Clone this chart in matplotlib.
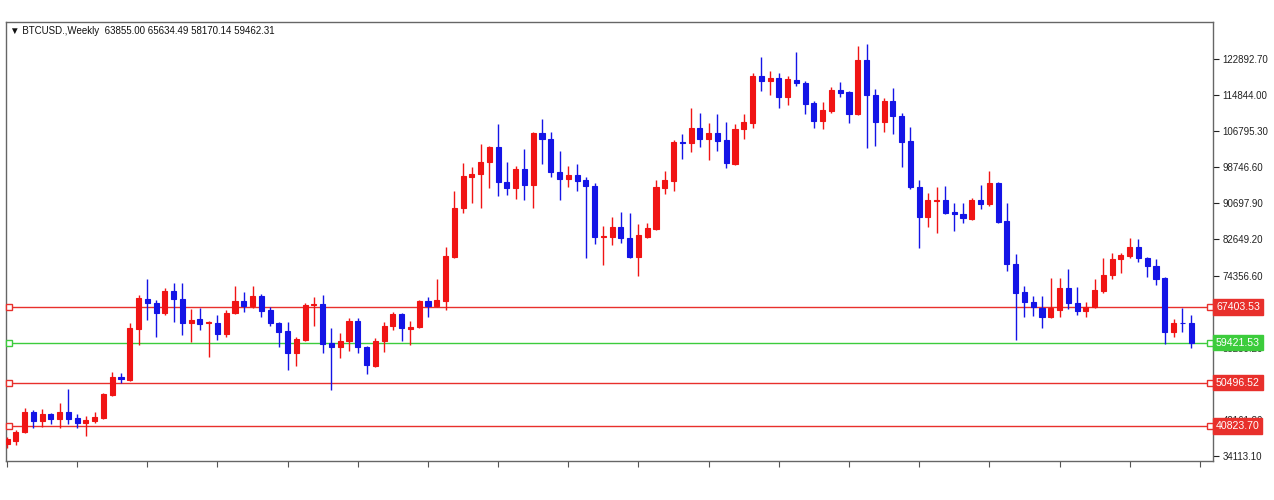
import matplotlib
matplotlib.use("Agg")
import matplotlib.pyplot as plt
import matplotlib.transforms as mtransforms
import numpy as np

plt.rcParams['font.family'] = ['Liberation Sans', 'DejaVu Sans']

# === weekly BTCUSD candles ===
opens = [
    36795, 37467, 39479, 43951, 41939, 43503, 42387, 43951, 42611, 41491,
    41939, 42611, 47753, 51779, 51107, 62511, 69219, 68323, 66087, 71007,
    69219, 63851, 64747, 63851, 63851, 61391, 66087, 68771, 67651, 69891,
    66759, 63851, 62063, 57143, 60051, 67879, 68101, 59379, 58483, 59827,
    64299, 58483, 54243, 59827, 63179, 65863, 62511, 62959, 68771, 67651,
    68771, 78611, 89567, 96499, 97171, 99851, 103207, 95379, 94039, 98287,
    94711, 106335, 104995, 97615, 96051, 96947, 95827, 94487, 83081, 83081,
    85319, 82857, 78611, 83081, 84871, 94039, 95603, 104323, 104099, 107455,
    104995, 106335, 104771, 99403, 107231, 108579, 119083, 117963, 118635, 114387,
    118187, 117515, 113047, 109019, 111255, 115951, 115503, 110583, 122659, 114833,
    108803, 113491, 110135, 104547, 94263, 87555, 91131, 91355, 88671, 88223,
    87107, 91355, 90459, 95155, 86659, 77043, 70783, 68547, 67207, 65191,
    66759, 71679, 68323, 66535, 67431, 71007, 74583, 78163, 78835, 80847,
    78387, 76595, 73915, 61839, 63950, 63855.00]

highs = [
    38363, 39927, 44847, 44399, 44623, 43727, 45963, 49095, 43503, 43059,
    43951, 48201, 52895, 52671, 63851, 70115, 73691, 68995, 71679, 72795,
    72795, 66983, 67207, 64299, 65639, 66759, 72127, 70783, 72127, 70339,
    67431, 64075, 64075, 60723, 68323, 69667, 70115, 62735, 61615, 64971,
    64971, 58707, 60499, 64075, 66311, 66087, 64299, 68995, 69667, 73691,
    80847, 93367, 99627, 98735, 103877, 103500, 108355, 99851, 98959, 102759,
    106600, 109467, 106559, 102311, 98959, 99403, 96499, 95155, 85543, 87555,
    88671, 88447, 85991, 86215, 95827, 97839, 104771, 106111, 111927, 110809,
    108579, 110583, 108803, 108355, 110583, 119755, 123331, 120199, 119755, 119083,
    124447, 117963, 113491, 113267, 116619, 117739, 115727, 125791, 126239, 116175,
    114163, 116399, 110809, 107679, 95827, 92919, 94263, 94487, 90683, 90683,
    91803, 94711, 97839, 95379, 90683, 79283, 72127, 69891, 69891, 73915,
    73915, 75927, 71903, 68547, 73691, 78387, 79507, 79507, 82859, 82635,
    78600, 78163, 74139, 64747, 67207, 65634.49]

lows = [
    35903, 36571, 39255, 40375, 40599, 41268, 40375, 41268, 40375, 38587,
    41491, 42387, 47500, 50435, 50883, 58931, 64523, 60723, 65639, 64075,
    61167, 59603, 62287, 56255, 60051, 60723, 65863, 66311, 67207, 65191,
    63179, 58483, 53343, 54243, 59827, 63179, 57143, 48871, 56031, 57591,
    57143, 52447, 54019, 57367, 62287, 59827, 58931, 62735, 65191, 67431,
    66759, 78400, 88447, 90683, 89567, 94039, 92247, 92471, 91579, 91355,
    89567, 99403, 96499, 91355, 94263, 93367, 78387, 81515, 76823, 81291,
    81739, 78400, 74359, 82857, 84647, 92695, 93367, 100523, 102087, 103207,
    100299, 102311, 98511, 99179, 104995, 107455, 115727, 114833, 111927, 112599,
    116843, 110583, 107455, 107231, 110807, 114387, 108579, 110300, 102983, 103431,
    106559, 106111, 98735, 93815, 80623, 85319, 83977, 88200, 84423, 86211,
    86883, 89343, 90011, 86211, 75479, 60051, 65191, 65415, 62735, 64967,
    65191, 66983, 65639, 65191, 67207, 70559, 73691, 75031, 78387, 77491,
    74135, 72351, 59155, 60723, 61839, 58170.14]

closes = [
    37915, 39479, 43951, 41939, 43503, 42387, 43951, 42387, 41491, 42163,
    42835, 47977, 51779, 51331, 62735, 69443, 68323, 66087, 71007, 69219,
    63851, 64523, 63627, 64075, 61391, 66087, 68771, 67651, 69891, 66535,
    63851, 61839, 57143, 60275, 67879, 68101, 59155, 58483, 59827, 64299,
    58483, 54467, 59827, 63179, 65863, 62735, 62959, 68771, 67651, 68995,
    78835, 89567, 96723, 97171, 99851, 103207, 95379, 94039, 98287, 94711,
    106335, 104995, 97615, 96051, 96947, 95603, 94487, 83081, 83305, 85319,
    82857, 78611, 83529, 85095, 94263, 95827, 104323, 104099, 107455, 104995,
    106335, 104547, 99627, 107231, 108803, 119083, 117963, 118635, 114387, 118411,
    117515, 112823, 109019, 111479, 115951, 115279, 110583, 122659, 114833, 108803,
    113491, 110135, 104323, 94263, 87555, 91355, 91355, 88447, 88223, 87331,
    91355, 90459, 95155, 86435, 77043, 70559, 68547, 67431, 65191, 67207,
    71679, 68323, 66535, 67431, 71231, 74583, 78163, 79059, 80847, 78387,
    76595, 73691, 61839, 63851, 63851, 59462.31]

# right price scale
tick_values = [34113.10, 42161.80, 50210.50, 58259.20, 66307.90, 74356.60,
               82649.20, 90697.90, 98746.60, 106795.30, 114844.00, 122892.70]

# horizontal levels
level_values = [67403.53, 59421.53, 50496.52, 40823.70]
level_colors = ['#e8302c', '#3ccc3c', '#e8302c', '#e8302c']

header = "\u25bc BTCUSD.,Weekly  63855.00 65634.49 58170.14 59462.31"

UP = '#f01414'
DOWN = '#1414e6'

fig = plt.figure(figsize=(12.74, 5), dpi=100)
ax = fig.add_axes([6 / 1274, 1 - 461 / 500, 1207 / 1274, 439 / 500])

o = np.array(opens)
h = np.array(highs)
l = np.array(lows)
c = np.array(closes)
x = np.arange(len(o))
cols = [UP if cc > oo else DOWN for oo, cc in zip(o, c)]

ax.vlines(x, l, h, colors=cols, linewidth=1.0, zorder=3)
ax.bar(x, np.abs(c - o), bottom=np.minimum(o, c), width=0.58,
       color=cols, edgecolor=cols, linewidth=0.8, zorder=4)

trans = mtransforms.blended_transform_factory(ax.transAxes, ax.transData)
for v, col in zip(level_values, level_colors):
    ax.axhline(v, color=col, linewidth=1.0, zorder=2)
    ax.plot([0.0025, 0.9975], [v, v], transform=trans, ls='none', marker='s',
            ms=4, mfc='white', mec=col, mew=1.0, clip_on=False, zorder=5)
    # price box sits over the scale label, as on the terminal
    ax.text(1.0025, v, f"{v:.2f}", transform=trans, ha='left', va='center',
            fontsize=7.6, color='white', clip_on=False, zorder=10,
            bbox=dict(boxstyle='square,pad=0.25', fc=col, ec=col))

ax.set_xlim(-0.11, 137.5)
ax.set_ylim(32995, 131155)

ax.yaxis.tick_right()
ax.set_yticks(tick_values)
ax.set_yticklabels([f"{t:.2f}" for t in tick_values])
ax.tick_params(axis='y', direction='out', length=4, width=0.8, pad=3,
               labelsize=7, colors='#222222')
ax.set_xticks(np.arange(0, len(o) + 1, 8))
ax.set_xticklabels([])
ax.tick_params(axis='x', direction='out', length=4, width=0.8, colors='#555555')

for s in ax.spines.values():
    s.set_color('#666666')
    s.set_linewidth(1.0)

ax.text(0.003, 0.979, header, transform=ax.transAxes, ha='left', va='center',
        fontsize=7, color='#111111')

fig.savefig("out.png", dpi=100)
